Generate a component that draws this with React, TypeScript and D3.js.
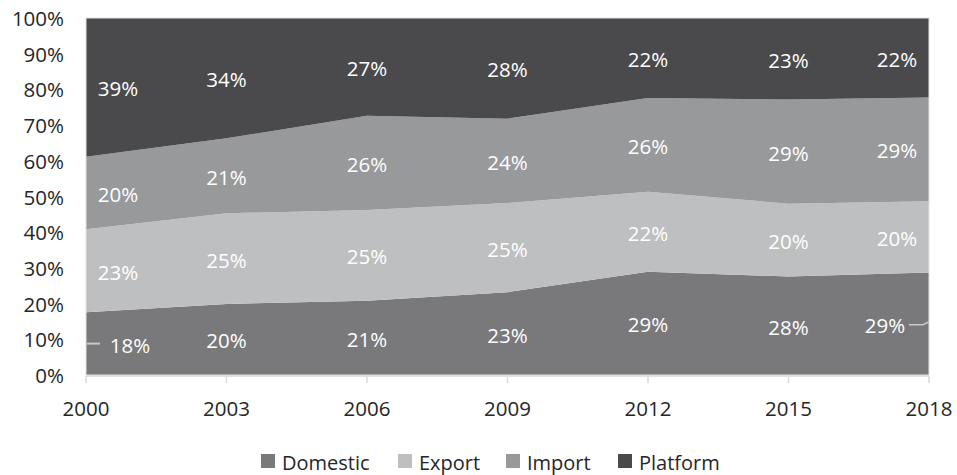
import React from "react";
import * as d3 from "d3";

const years = ["2000", "2003", "2006", "2009", "2012", "2015", "2018"];
const seriesNames = ["Domestic", "Export", "Import", "Platform"];
const domestic = [17.6, 19.9, 20.8, 23.2, 28.9, 27.6, 28.7];
const exportV = [23.2, 25.4, 25.4, 25.0, 22.4, 20.4, 20.0];
const importV = [20.3, 21.0, 26.4, 23.6, 26.3, 29.2, 29.0];
const platform = [38.9, 33.7, 27.4, 28.2, 22.4, 22.8, 22.3];
const yTicks = [0, 10, 20, 30, 40, 50, 60, 70, 80, 90, 100];
const colors = ["#79797b", "#bebfc0", "#98999b", "#4a4a4c"];

const W = 957, H = 475;
const margin = { left: 86, right: 28, top: 18 };
const plotBottom = 375;
const FONT = "'Open Sans', 'Noto Sans', sans-serif";
const FS = 20.5;

export default function App() {
  const values = [domestic, exportV, importV, platform];
  const rows = years.map((y, i) => {
    const r: any = { year: y };
    seriesNames.forEach((s, k) => (r[s] = values[k][i]));
    return r;
  });
  const stacked = d3.stack<any>().keys(seriesNames)(rows);
  const x = d3.scalePoint<string>().domain(years).range([margin.left, W - margin.right]);
  const y = d3.scaleLinear().domain([0, 100]).range([plotBottom, margin.top]);
  const area = d3
    .area<any>()
    .x((d) => x(d.data.year)!)
    .y0((d) => y(d[0]))
    .y1((d) => y(d[1]));

  const x0 = x(years[0])!;
  const x1 = x(years[years.length - 1])!;
  const last = years.length - 1;
  const dMid0 = (y(0) + y(domestic[0])) / 2;
  const dMidL = (y(0) + y(domestic[last])) / 2;

  return (
    <svg width={W} height={H} style={{ display: "block", position: "absolute", left: 0, top: 0 }}>
      <rect x={0} y={0} width={W} height={H} fill="#ffffff" />
      {stacked.map((s, k) => (
        <path key={s.key} d={area(s as any)!} fill={colors[k]} />
      ))}
      <rect x={x0} y={y(100)} width={x1 - x0} height={y(0) - y(100)} fill="none" stroke="#e3e3e3" strokeWidth={1} />
      <line x1={x0} x2={x1} y1={y(0) + 1} y2={y(0) + 1} stroke="#d9d9d9" strokeWidth={1.5} />
      {years.map((yr) => (
        <g key={yr}>
          <line x1={x(yr)} x2={x(yr)} y1={y(0) + 1} y2={y(0) + 8} stroke="#d9d9d9" strokeWidth={1.5} />
          <text x={x(yr)} y={y(0) + 41} textAnchor="middle" fontFamily={FONT} fontSize={FS} fill="#262626">
            {yr}
          </text>
        </g>
      ))}
      {yTicks.map((t) => (
        <text key={t} x={64} y={y(t) + 8} textAnchor="end" fontFamily={FONT} fontSize={FS} fill="#262626">
          {t}%
        </text>
      ))}
      {stacked.map((s, k) =>
        s.map((d, i) => {
          const cx = x(years[i])!;
          let lx = cx;
          if (i === 0) lx = cx + (k === 0 ? 44 : 32);
          if (i === last) lx = cx - (k === 0 ? 44 : 32);
          const mid = (y(d[0]) + y(d[1])) / 2;
          return (
            <text key={s.key + i} x={lx} y={mid + 9} textAnchor="middle" fontFamily={FONT} fontSize={FS} fill="#ffffff">
              {Math.round(values[k][i])}%
            </text>
          );
        })
      )}
      <line x1={x0 + 1} x2={x0 + 14} y1={dMid0} y2={dMid0} stroke="#c8c8c8" strokeWidth={2} />
      <polyline
        points={`${x1 - 20},${dMidL + 1} ${x1 - 6},${dMidL + 1} ${x1},${dMidL - 2}`}
        fill="none"
        stroke="#c8c8c8"
        strokeWidth={1.5}
      />
      {seriesNames.map((s, k) => {
        const lx = [261, 398, 506, 618][k];
        return (
          <g key={s}>
            <rect x={lx} y={454} width={14} height={14} fill={colors[k]} />
            <text x={lx + 21} y={470} fontFamily={FONT} fontSize={20} fill="#262626">
              {s}
            </text>
          </g>
        );
      })}
    </svg>
  );
}
